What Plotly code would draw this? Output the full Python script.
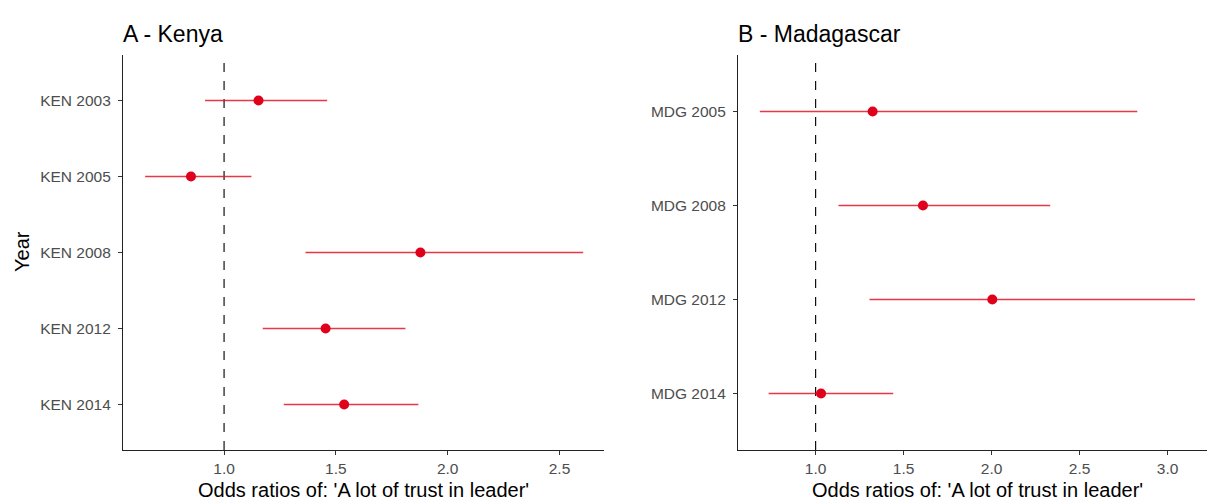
import plotly.graph_objects as go

# Kenya
ken_labels = ["KEN 2003", "KEN 2005", "KEN 2008", "KEN 2012", "KEN 2014"]
ken_or = [1.154, 0.852, 1.878, 1.454, 1.537]
ken_lo = [0.915, 0.647, 1.364, 1.173, 1.267]
ken_hi = [1.461, 1.122, 2.606, 1.811, 1.869]

# Madagascar
mdg_labels = ["MDG 2005", "MDG 2008", "MDG 2012", "MDG 2014"]
mdg_or = [1.324, 1.610, 2.004, 1.031]
mdg_lo = [0.683, 1.130, 1.306, 0.733]
mdg_hi = [2.828, 2.333, 3.156, 1.441]

x_ticks = [1.0, 1.5, 2.0, 2.5, 3.0]
x_ticktext = ["1.0", "1.5", "2.0", "2.5", "3.0"]

W, H = 1207, 503
PT_COLOR = "#e0001b"
LINE_COLOR = "rgba(228,20,40,0.85)"
FONT = "Liberation Sans, Arial, sans-serif"

fig = go.Figure()

def add_panel(labels, orv, lo, hi, xa, ya):
    plus = [h - o for h, o in zip(hi, orv)]
    minus = [o - l for o, l in zip(orv, lo)]
    fig.add_trace(go.Scatter(
        x=orv, y=labels, mode="markers",
        marker=dict(color=PT_COLOR, size=10),
        error_x=dict(type="data", symmetric=False, array=plus, arrayminus=minus,
                     color=LINE_COLOR, thickness=1.5, width=0),
        xaxis=xa, yaxis=ya, showlegend=False, hoverinfo="x+y"))

add_panel(ken_labels, ken_or, ken_lo, ken_hi, "x", "y")
add_panel(mdg_labels, mdg_or, mdg_lo, mdg_hi, "x2", "y2")

yb = (H - 450) / H
yt = (H - 55) / H
left_dom = [123 / W, 604 / W]
right_dom = [738 / W, 1.0]

axis_common = dict(showgrid=False, zeroline=False, showline=True, linecolor="#222",
                   linewidth=1.1, ticks="outside", ticklen=4, tickcolor="#333",
                   tickwidth=1, tickfont=dict(family=FONT, size=15.5, color="#4d4d4d"),
                   automargin=False, fixedrange=True)

fig.update_layout(
    width=W, height=H, margin=dict(l=0, r=0, t=0, b=0),
    paper_bgcolor="white", plot_bgcolor="white",
    font=dict(family=FONT),
    xaxis=dict(domain=left_dom, range=[0.548, 2.699], tickvals=x_ticks[:4],
               ticktext=x_ticktext[:4], anchor="y", **axis_common),
    yaxis=dict(domain=[yb, yt], type="category", categoryorder="array",
               categoryarray=ken_labels[::-1], range=[-0.6, 4.6], anchor="x",
               ticklabelstandoff=4, **axis_common),
    xaxis2=dict(domain=right_dom, range=[0.559, 3.224], tickvals=x_ticks,
                ticktext=x_ticktext, anchor="y2", **axis_common),
    yaxis2=dict(domain=[yb, yt], type="category", categoryorder="array",
                categoryarray=mdg_labels[::-1], range=[-0.6, 3.6], anchor="x2",
                ticklabelstandoff=4, **axis_common),
)

# reference lines at OR = 1
for xr, yr in (("x", "y"), ("x2", "y2")):
    fig.add_shape(type="line", xref=xr, yref=f"{yr} domain", x0=1, x1=1, y0=0, y1=1,
                  line=dict(color="#111", width=1.2, dash="dash"), layer="below")

ann = []
def txt(x, y, s, size, color="black", angle=0, xanchor="center", yanchor="middle"):
    ann.append(dict(x=x / W, y=1 - y / H, xref="paper", yref="paper", text=s,
                    showarrow=False, font=dict(family=FONT, size=size, color=color),
                    textangle=angle, xanchor=xanchor, yanchor=yanchor))

txt(121, 34, "A - Kenya", 23, xanchor="left")
txt(736, 34, "B - Madagascar", 23, xanchor="left")
xt = "Odds ratios of: 'A lot of trust in leader'"
txt((123 + 604) / 2, 490, xt, 20)
txt(977, 490, xt, 20)
txt(22, 252, "Year", 20, angle=-90)
fig.update_layout(annotations=ann)

fig.write_html("out.html")
